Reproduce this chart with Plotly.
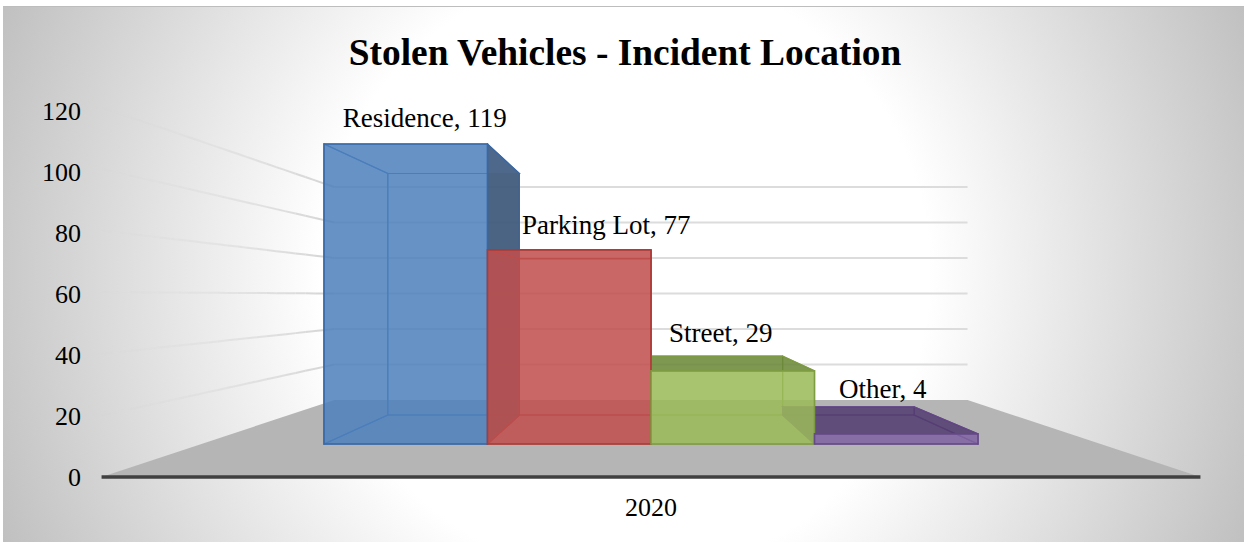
import base64
import plotly.graph_objects as go

# ---- data ----
categories = ["Residence", "Parking Lot", "Street", "Other"]
values = [119, 77, 29, 4]
year_label = ["2020"]
y_ticks = [0, 20, 40, 60, 80, 100, 120]

# ---- styles ----
front_fill = ["rgba(79,129,189,0.85)", "rgba(192,80,77,0.85)", "rgba(155,187,89,0.85)", "rgba(128,100,162,0.85)"]
edge_col = ["rgba(56,103,165,0.95)", "rgba(170,58,55,0.95)", "rgba(125,155,65,0.95)", "rgba(100,72,135,0.95)"]
dark_fill = ["rgba(62,88,122,0.92)", "rgba(140,52,50,0.85)", "rgba(105,135,55,0.85)", "rgba(82,60,112,0.85)"]
inner_fill = ["rgba(79,129,189,0.12)", "rgba(192,80,77,0.12)", "rgba(155,187,89,0.12)", "rgba(128,100,162,0.12)"]
label_dx_px = [19, 37, -12, -13.5]
label_dy_px = [24, 23, 36, 43]

W, H = 1244, 542
SERIF = "Liberation Serif"

# ---- projection of the 3-D box scene onto the 2-D axes ----
PX_X0, PX_PER_CAT = 324.0, 163.5      # front plane: pixel of category edge 0, pixels per category
PX_Y0, PX_PER_UNIT = 477.0, 3.05      # value axis: pixel of 0, pixels per unit
FRONT_BASE, HORIZON = 444.0, 295.3
DEPTH_UNIT = 2.521                    # px per value on the front plane
C0 = 2.0                              # vanishing category position
S_BACK = 0.805                        # scale of the back of the boxes
S_FLOOR_FRONT, S_FLOOR_BACK = 1.222, 0.704
WALL_HALF = 2.75

def project(c, v, s):
    x = C0 + (c - C0) * s
    px_y = HORIZON + (FRONT_BASE - HORIZON) * s - v * DEPTH_UNIT * s
    return x, (PX_Y0 - px_y) / PX_PER_UNIT

def poly(points, fill, line=None, width=1.2):
    path = "M " + " L ".join(f"{x:.4f} {y:.4f}" for x, y in points) + " Z"
    return dict(type="path", path=path, xref="x", yref="y", layer="below",
                fillcolor=fill, line=dict(color=line or "rgba(0,0,0,0)", width=width if line else 0))

def seg(p, q, color, width):
    return dict(type="line", x0=p[0], y0=p[1], x1=q[0], y1=q[1], xref="x", yref="y",
                layer="below", line=dict(color=color, width=width))

shapes = []
# floor
L, R = C0 - WALL_HALF, C0 + WALL_HALF
shapes.append(poly([project(L, 0, S_FLOOR_FRONT), project(R, 0, S_FLOOR_FRONT),
                    project(R, 0, S_FLOOR_BACK), project(L, 0, S_FLOOR_BACK)], "#b5b5b5"))
# gridlines: back wall and fading side wall
for v in y_ticks[1:]:
    shapes.append(seg(project(L, v, S_FLOOR_BACK), project(R, v, S_FLOOR_BACK), "rgb(220,220,220)", 2))
    n = 24
    p0, p1 = project(L, v, S_FLOOR_FRONT), project(L, v, S_FLOOR_BACK)
    for i in range(n):
        a, b = i / n, (i + 1) / n
        pa = (p0[0] + (p1[0] - p0[0]) * a, p0[1] + (p1[1] - p0[1]) * a)
        pb = (p0[0] + (p1[0] - p0[0]) * b, p0[1] + (p1[1] - p0[1]) * b)
        shapes.append(seg(pa, pb, f"rgba(212,212,212,{b ** 1.4:.3f})", 2))

# box faces behind the front face
for i, v in enumerate(values):
    c0, c1 = float(i), float(i + 1)
    f = project
    # back
    shapes.append(poly([f(c0, 0, S_BACK), f(c1, 0, S_BACK), f(c1, v, S_BACK), f(c0, v, S_BACK)],
                       inner_fill[i], edge_col[i]))
    # bottom
    shapes.append(poly([f(c0, 0, 1), f(c1, 0, 1), f(c1, 0, S_BACK), f(c0, 0, S_BACK)],
                       inner_fill[i], edge_col[i]))
    # left and right sides
    shapes.append(poly([f(c0, 0, 1), f(c0, v, 1), f(c0, v, S_BACK), f(c0, 0, S_BACK)],
                       inner_fill[i] if c0 < C0 else dark_fill[i], edge_col[i]))
    shapes.append(poly([f(c1, 0, 1), f(c1, v, 1), f(c1, v, S_BACK), f(c1, 0, S_BACK)],
                       dark_fill[i] if c1 <= C0 else inner_fill[i], edge_col[i]))
    # top: only dark when the box top is seen from above
    from_above = f(c0, v, S_BACK)[1] > f(c0, v, 1)[1]
    shapes.append(poly([f(c0, v, 1), f(c1, v, 1), f(c1, v, S_BACK), f(c0, v, S_BACK)],
                       dark_fill[i] if from_above else inner_fill[i], edge_col[i]))

fig = go.Figure()

# front faces are real bars
base_y = project(0, 0, 1)[1]
for i, (name, v) in enumerate(zip(categories, values)):
    fig.add_trace(go.Bar(
        x=[i + 0.5], y=[project(0, v, 1)[1] - base_y], base=base_y, width=1, name=name,
        marker=dict(color=front_fill[i], line=dict(color=edge_col[i], width=1.6)),
        showlegend=False, hoverinfo="skip"))

# axis baseline
ax_l, ax_r = project(L, 0, S_FLOOR_FRONT), project(R, 0, S_FLOOR_FRONT)
fig.add_trace(go.Scatter(x=[ax_l[0], ax_r[0]], y=[ax_l[1], ax_r[1]], mode="lines",
                         line=dict(color="#404040", width=3.5), showlegend=False, hoverinfo="skip"))

# data labels
lab_x = [i + 0.5 + dx / PX_PER_CAT for i, dx in enumerate(label_dx_px)]
lab_y = [project(0, v, 1)[1] + dy / PX_PER_UNIT for v, dy in zip(values, label_dy_px)]
fig.add_trace(go.Scatter(x=lab_x, y=lab_y, mode="text",
                         text=[f"{c}, {v}" for c, v in zip(categories, values)],
                         textposition="middle center",
                         textfont=dict(family=SERIF, size=27, color="black"),
                         showlegend=False, hoverinfo="skip"))

# background gradient
svg = ('<svg xmlns="http://www.w3.org/2000/svg" width="1241" height="536" viewBox="0 0 1241 536">'
       '<defs><radialGradient id="g" gradientUnits="userSpaceOnUse" cx="622" cy="266" r="677">'
       '<stop offset="0.45" stop-color="#ffffff"/><stop offset="1" stop-color="#c0c0c0"/>'
       '</radialGradient></defs><rect width="1241" height="536" fill="url(#g)"/>'
       '<rect width="1241" height="1" fill="#bdbdbd"/></svg>')
src = "data:image/svg+xml;base64," + base64.b64encode(svg.encode()).decode()

fig.update_layout(
    width=W, height=H, autosize=False,
    margin=dict(l=0, r=0, t=0, b=0, pad=0),
    paper_bgcolor="white", plot_bgcolor="rgba(0,0,0,0)",
    barmode="overlay", showlegend=False,
    title=dict(text="<b>Stolen Vehicles - Incident Location</b>",
               x=625 / W, xanchor="center", y=1 - 52 / H, yanchor="middle",
               font=dict(family=SERIF, size=37.4, color="black")),
    shapes=shapes,
    images=[dict(source=src, xref="paper", yref="paper", x=3 / W, y=1 - 6 / H,
                 sizex=1241 / W, sizey=536 / H, sizing="stretch",
                 xanchor="left", yanchor="top", layer="below")],
    xaxis=dict(range=[(0 - PX_X0) / PX_PER_CAT, (W - PX_X0) / PX_PER_CAT],
               domain=[0, 1], anchor="free", position=(H - PX_Y0) / H,
               tickmode="array", tickvals=[C0], ticktext=year_label,
               ticks="outside", ticklen=7, tickcolor="rgba(0,0,0,0)", tickwidth=1,
               showgrid=False, zeroline=False, showline=False, fixedrange=True,
               tickfont=dict(family=SERIF, size=26, color="black")),
    yaxis=dict(range=[-(H - PX_Y0) / PX_PER_UNIT, PX_Y0 / PX_PER_UNIT],
               domain=[0, 1], anchor="free", position=81 / W,
               tickmode="array", tickvals=y_ticks, ticktext=[str(t) for t in y_ticks],
               ticks="", showgrid=False, zeroline=False, showline=False, fixedrange=True,
               tickfont=dict(family=SERIF, size=26, color="black")),
)

fig.write_html("out.html", config={"displayModeBar": False},
               post_script="document.body.style.margin='0';document.documentElement.style.overflow='hidden';")
